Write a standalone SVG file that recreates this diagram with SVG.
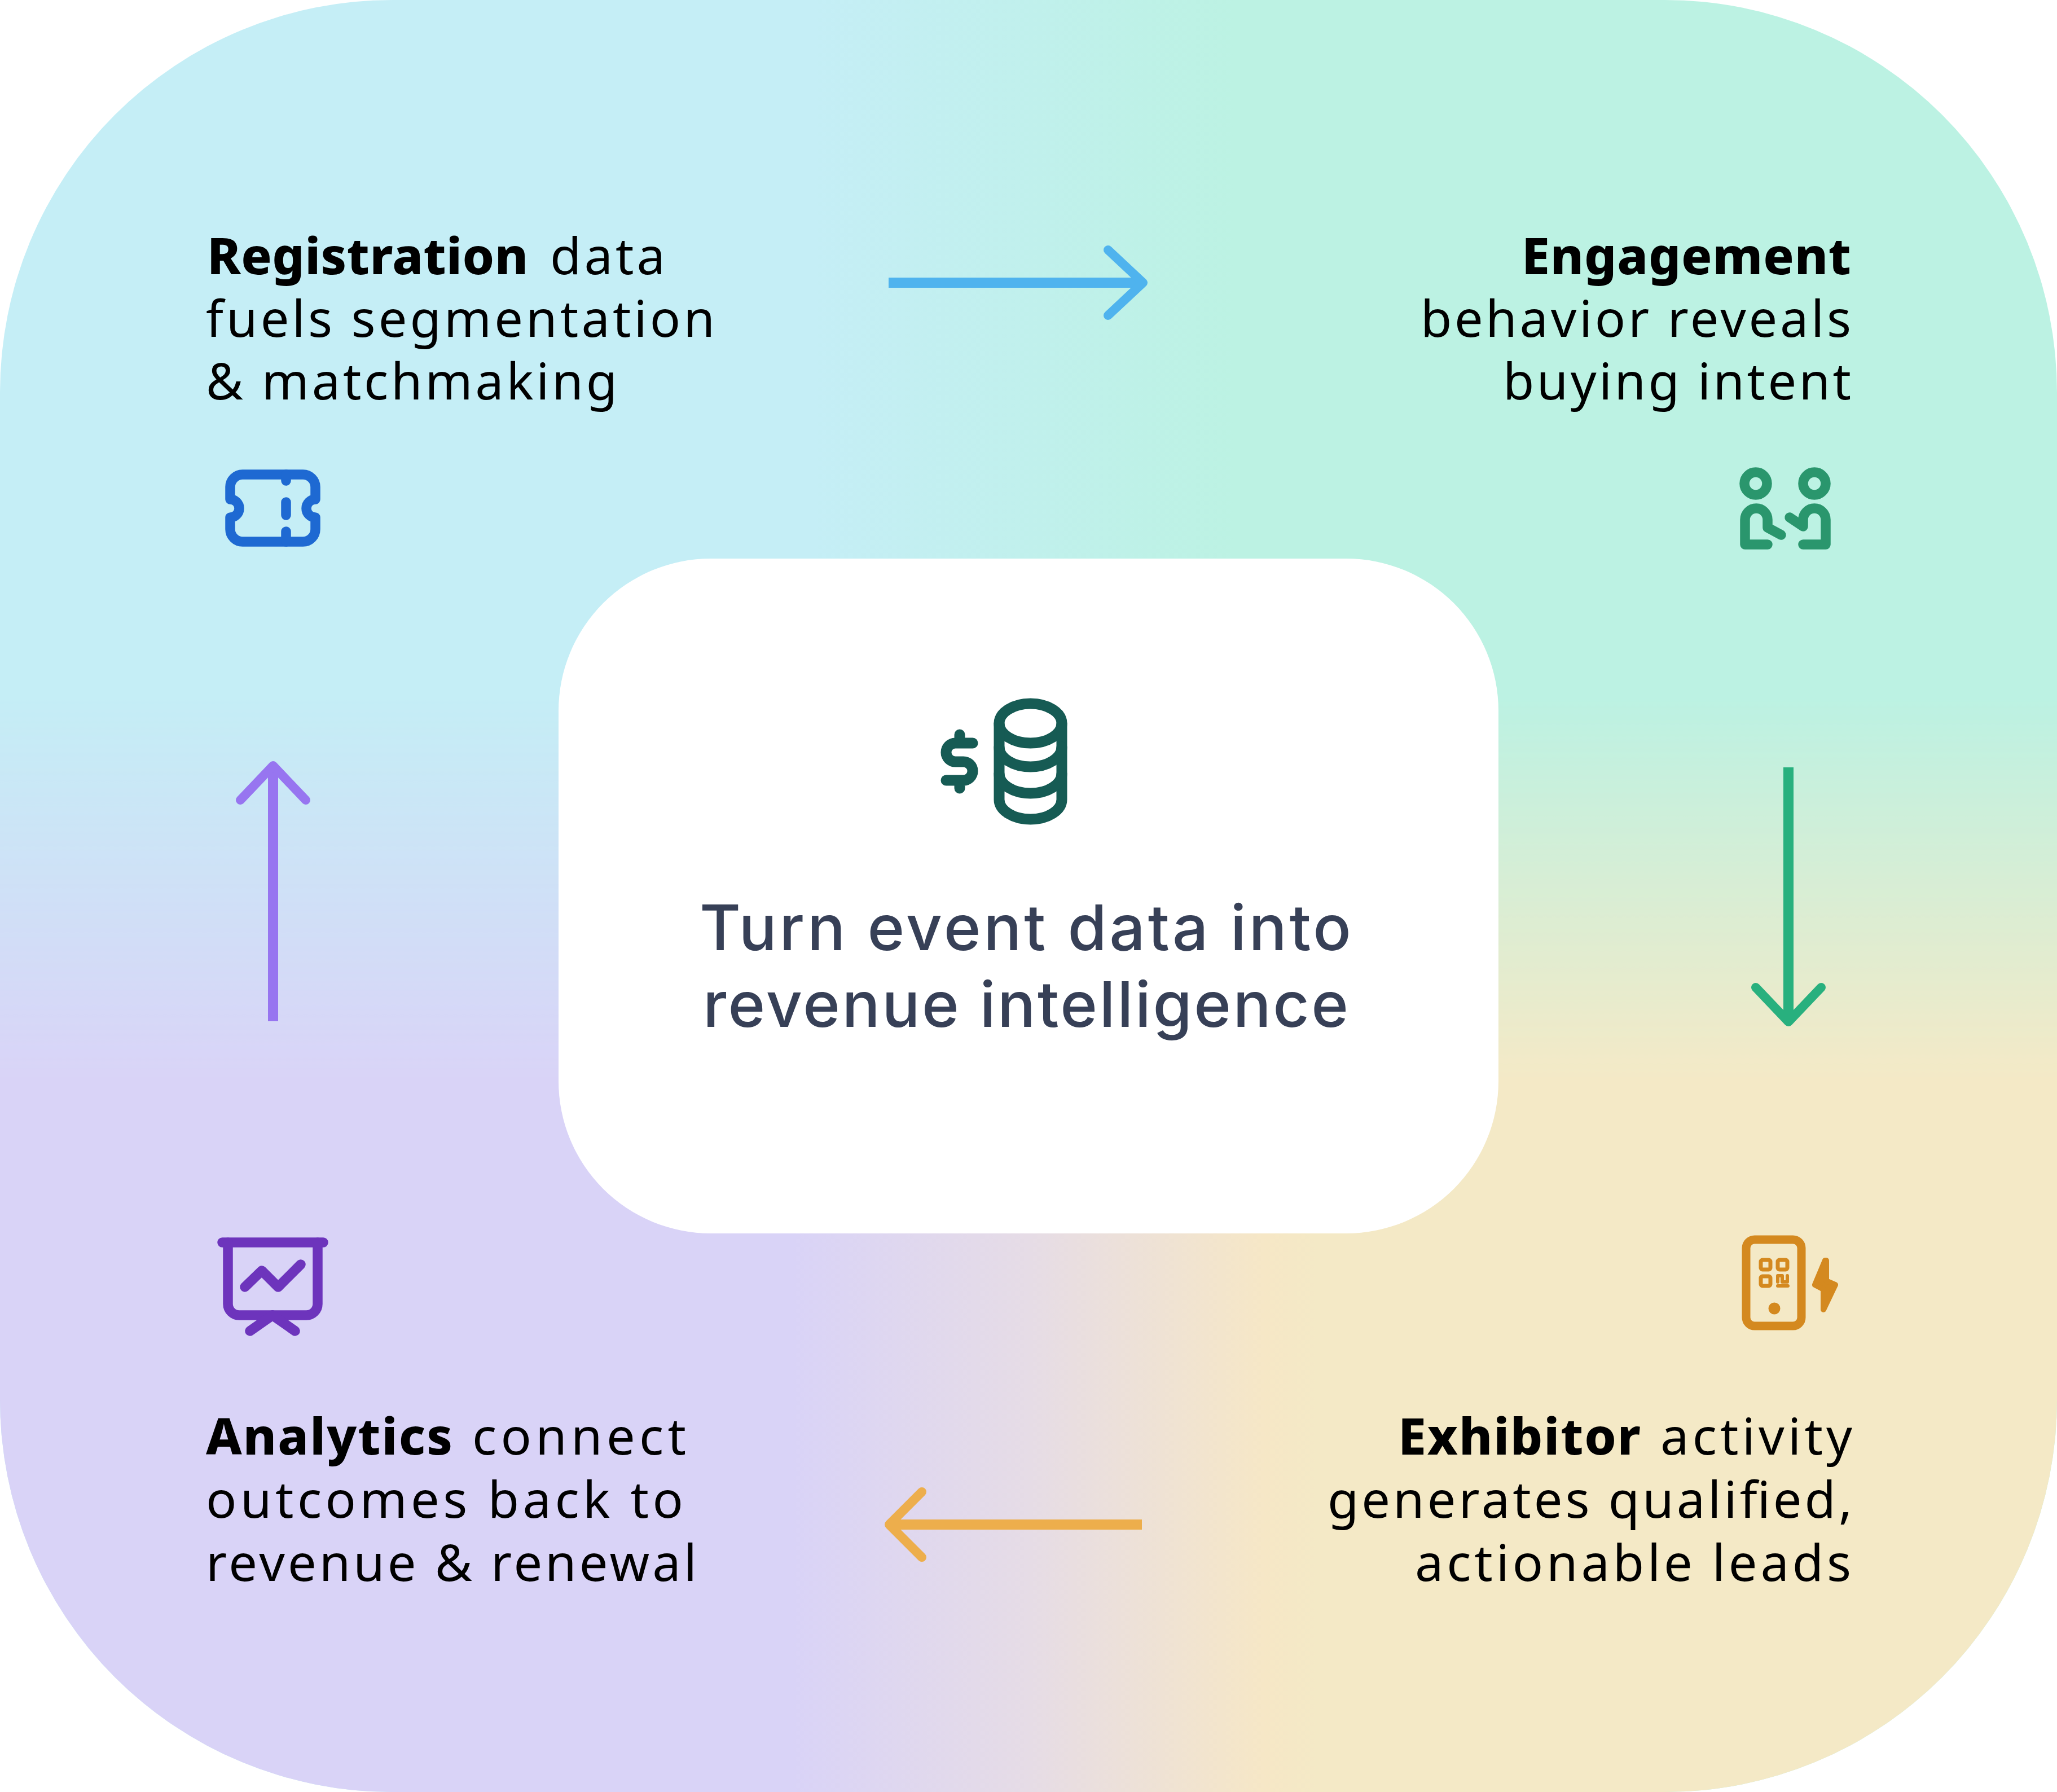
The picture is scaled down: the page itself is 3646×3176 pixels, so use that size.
<svg xmlns="http://www.w3.org/2000/svg" width="3646" height="3176" viewBox="0 0 3646 3176">
<style>
text{font-family:"Noto Sans","Liberation Sans",sans-serif;font-size:90px;fill:#000}
.b{font-weight:800}
.c{font-family:"Inter","Noto Sans",sans-serif;font-size:112px;fill:#374057;font-weight:500}
.i{fill:none;stroke-linecap:round;stroke-linejoin:round;stroke-width:17.5}
.a{fill:none;stroke-linecap:butt;stroke-width:18}
.h{fill:none;stroke-linecap:round;stroke-linejoin:round;stroke-width:16}
</style>
<defs>
<linearGradient id="top" gradientUnits="userSpaceOnUse" x1="0" y1="0" x2="3646" y2="0"><stop offset="0.395" stop-color="#C5EEF6"/><stop offset="0.6" stop-color="#BCF2E3"/></linearGradient>
<linearGradient id="bot" gradientUnits="userSpaceOnUse" x1="0" y1="0" x2="3646" y2="0"><stop offset="0.385" stop-color="#D9D3F7"/><stop offset="0.5" stop-color="#E6DCE6"/><stop offset="0.615" stop-color="#F6E7C6"/><stop offset="0.64" stop-color="#F4E9C6"/></linearGradient>
<linearGradient id="v" gradientUnits="userSpaceOnUse" x1="0" y1="1235" x2="0" y2="1915"><stop offset="0" stop-color="#000"/><stop offset="1" stop-color="#fff"/></linearGradient>
<mask id="m" maskUnits="userSpaceOnUse" x="0" y="0" width="3646" height="3176"><rect width="3646" height="3176" fill="url(#v)"/></mask>
<clipPath id="cp"><rect width="3646" height="3176" rx="695" ry="695"/></clipPath>
</defs>
<g id="background" clip-path="url(#cp)">
<rect width="3646" height="3176" fill="url(#top)"/>
<rect width="3646" height="3176" fill="url(#bot)" mask="url(#m)"/>
</g>
<g id="connectors">
<g stroke="#4FB3EE"><path class="a" d="M1575 501H2025"/><path class="h" d="M1964 443L2026 501L1964 559"/></g>
<g stroke="#28B07E"><path class="a" d="M3170 1360V1805"/><path class="h" d="M3112 1750L3170 1811L3228 1750"/></g>
<g stroke="#EDAE4C"><path class="a" d="M2024 2702H1575"/><path class="h" d="M1634 2644L1576 2702L1634 2760"/></g>
<g stroke="#9775F0"><path class="a" d="M484 1810V1360"/><path class="h" d="M426 1418L484 1357L542 1418"/></g>
</g>
<g id="center">
<rect x="990" y="990" width="1666" height="1196" rx="270" ry="270" fill="#fff"/>
<g class="i" stroke="#165B54" style="stroke-width:19">
<ellipse cx="1826.5" cy="1282" rx="55.5" ry="35"/>
<path d="M1771 1282V1417A55.5 35 0 0 0 1882 1417V1282"/>
<path d="M1771 1324A55.5 35 0 0 0 1882 1324M1771 1371A55.5 35 0 0 0 1882 1371"/>
<path d="M1724 1317H1693.5a16.5 16.5 0 0 0 0 33H1707.5a16.5 16.5 0 0 1 0 33H1677M1701 1302V1317M1701 1383V1397"/>
</g>
<text class="c" x="1240" y="1684" textLength="1155" lengthAdjust="spacing">Turn event data into</text>
<text class="c" x="1246" y="1820" textLength="1144" lengthAdjust="spacing">revenue intelligence</text>
</g>
<g id="registration">
<text y="486"><tspan class="b" x="367" textLength="569">Registration</tspan><tspan x="975" textLength="204">data</tspan></text>
<text x="365" y="597" textLength="902" lengthAdjust="spacing">fuels segmentation</text>
<text x="365" y="708" textLength="729" lengthAdjust="spacing">&amp; matchmaking</text>
<g class="i" stroke="#1E69D2">
<path d="M408 885V863A22 22 0 0 1 430 841H537A22 22 0 0 1 559 863V885A16 16 0 0 0 559 917V938A22 22 0 0 1 537 960H430A22 22 0 0 1 408 938V917A16 16 0 0 0 408 885Z"/>
<path d="M507 841V852M507 890V913M507 942V960"/>
</g>
</g>
<g id="engagement">
<text x="2697" y="486" class="b" textLength="584">Engagement</text>
<text x="2518" y="597" textLength="763">behavior reveals</text>
<text x="2664" y="708" textLength="617">buying intent</text>
<g class="i" stroke="#2A966D">
<circle cx="3112" cy="857" r="20"/><circle cx="3216" cy="857" r="20"/>
<path d="M3133 965H3093V921A20 20 0 0 1 3133 921V935L3157 948"/>
<path d="M3196 965H3236V921A20 20 0 0 0 3196 921V933L3172 917"/>
</g>
</g>
<g id="exhibitor">
<text y="2578"><tspan class="b" x="2478" textLength="430">Exhibitor</tspan><tspan x="2943" textLength="340">activity</tspan></text>
<text x="2353" y="2690" textLength="930">generates qualified,</text>
<text x="2508" y="2802" textLength="773">actionable leads</text>
<g fill="none" stroke="#D4891F" stroke-linejoin="round" stroke-linecap="round">
<rect x="3095" y="2197" width="98" height="153" rx="15" stroke-width="15"/>
<rect x="3121" y="2233" width="17" height="17" rx="3" stroke-width="7"/>
<rect x="3151" y="2233" width="17" height="17" rx="3" stroke-width="7"/>
<rect x="3121" y="2262" width="17" height="17" rx="3" stroke-width="7"/>
<path d="M3151 2279H3169M3151 2272V2261H3159V2272H3168V2261" stroke-width="6"/>
<path d="M3235 2234L3217 2277L3232 2285V2321L3253 2277L3237 2270V2234Z" fill="#D4891F" stroke-width="10"/>
</g>
<circle cx="3145" cy="2319" r="10.5" fill="#D4891F"/>
</g>
<g id="analytics">
<text y="2578"><tspan class="b" x="365" textLength="437">Analytics</tspan><tspan x="837" textLength="379">connect</tspan></text>
<text x="365" y="2690" textLength="846">outcomes back to</text>
<text x="365" y="2802" textLength="870">revenue &amp; renewal</text>
<g class="i" stroke="#6D34BC">
<path d="M394 2202H573"/>
<path d="M404 2202V2311A20 20 0 0 0 424 2331H543A20 20 0 0 0 563 2311V2202"/>
<path d="M434 2281L464 2252L493 2281L533 2241"/>
<path d="M443 2359L483 2331L523 2359"/>
</g>
</g>
</svg>
